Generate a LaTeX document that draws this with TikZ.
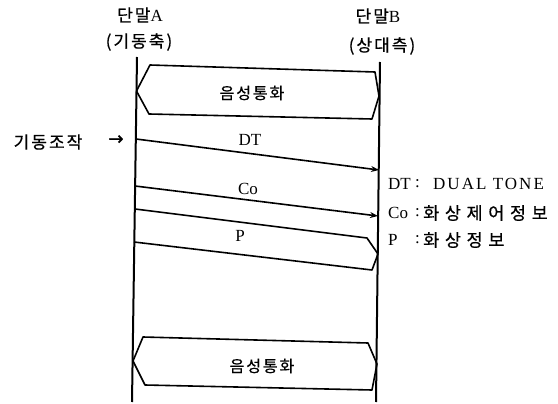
\documentclass[tikz,border=0pt]{standalone}
\usepackage{fontspec}
\setmainfont{Liberation Serif}
\newfontfamily\kr[LetterSpace=12,FakeBold=0.6]{Noto Sans CJK KR}
\newfontfamily\krw[LetterSpace=32,FakeBold=0.6]{Noto Sans CJK KR}
\newfontfamily\lat[LetterSpace=12]{Liberation Serif}
\newfontfamily\sym[FakeBold=1.5]{DejaVu Sans}
\usetikzlibrary{arrows.meta}
\tikzset{
  life/.style={line width=2pt},
  msg/.style={line width=1.6pt, line join=round},
  arr/.style={msg, -{Stealth[length=8pt,width=6pt]}},
  hexa/.style={line width=1.6pt, line join=round},
  txt/.style={inner sep=0pt, font=\fontsize{17}{19}\selectfont},
  ktxt/.style={inner sep=0pt, font=\kr\fontsize{17}{19}\selectfont},
  vtxt/.style={inner sep=0pt, font=\kr\fontsize{16}{19}\selectfont},
  legk/.style={inner sep=0pt, anchor=west, font=\fontsize{17}{19}\selectfont},
  legd/.style={inner sep=0pt, anchor=west, font=\krw\fontsize{17.5}{19}\selectfont},
}
\begin{document}
\begin{tikzpicture}[x=1pt,y=-1pt]
\useasboundingbox (0,0) rectangle (558,404);
% headers
\node[txt] (hA)  at (140,15) {{\kr 단말}A};
\node[ktxt] (hA2) at (139,42) {(기동축)};
\node[txt] (hB)  at (378,16) {{\kr 단말}B};
\node[ktxt] (hB2) at (382,46) {(상대측)};
% lifelines
\coordinate (At) at (137,57);
\coordinate (Ab) at (132,402);
\coordinate (Bt) at (380,62);
\coordinate (Bb) at (376,402);
\draw[life] (At) -- (Ab);
\draw[life] (Bt) -- (Bb);
% top voice call
\coordinate (h1) at (136.5,91);
\coordinate (h2) at (150,65);
\coordinate (h3) at (375,72);
\coordinate (h4) at (379,96);
\coordinate (h5) at (372,119);
\coordinate (h6) at (149,114);
\draw[hexa] (h1) -- (h2) -- (h3) -- (h4) -- (h5) -- (h6) -- cycle;
\node[vtxt] (v1) at (252,93) {음성통화};
% trigger
\node[ktxt] (op) at (48,142) {기동조작};
\node[inner sep=0pt, font=\sym\fontsize{18}{19}\selectfont] (oparr) at (116,140) {→};
% DT
\coordinate (dt1) at (136,139);
\coordinate (dt2) at (379,170);
\draw[arr] (dt1) -- (dt2);
\node[txt] (dtl) at (250,140) {DT};
% Co
\coordinate (co1) at (135,186);
\coordinate (co2) at (378,216);
\draw[arr] (co1) -- (co2);
\node[txt] (col) at (248,189) {Co};
% P
\coordinate (p1) at (135,209);
\coordinate (p2) at (367,238);
\coordinate (p3) at (378,254);
\coordinate (p4) at (372,270);
\coordinate (p5) at (134,242);
\draw[msg] (p1) -- (p2) -- (p3) -- (p4) -- (p5);
\node[txt] (pl) at (240,236) {P};
% legend
\node[legk] (k1) at (388,184) {DT};
\node[legk] (c1) at (415,184) {:};
\node[legk] (d1) at (433,184) {\lat DUAL TONE};
\node[legk] (k2) at (388,213) {Co};
\node[legk] (c2) at (415,213) {:};
\node[legd] (d2) at (423,213) {화상제어정보};
\node[legk] (k3) at (388,240) {P};
\node[legk] (c3) at (415,240) {:};
\node[legd] (d3) at (423,240) {화상정보};
% bottom voice call
\coordinate (g1) at (133,361);
\coordinate (g2) at (143,337);
\coordinate (g3) at (368,343);
\coordinate (g4) at (377,364);
\coordinate (g5) at (372,390);
\coordinate (g6) at (145,385);
\draw[hexa] (g1) -- (g2) -- (g3) -- (g4) -- (g5) -- (g6) -- cycle;
\node[vtxt] (v2) at (262,366) {음성통화};
\end{tikzpicture}
\end{document}
